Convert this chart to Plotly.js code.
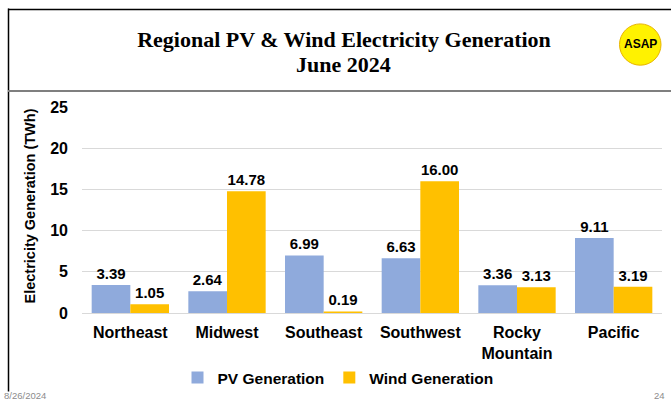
<!DOCTYPE html>
<html>
<head>
<meta charset="utf-8">
<script src="https://cdn.plot.ly/plotly-3.0.1.min.js"></script>
<style>
html,body{margin:0;padding:0;background:#fff;}
#chart{width:671px;height:403px;}
</style>
</head>
<body>
<div id="chart"></div>
<script>
const regions = ["Northeast", "Midwest", "Southeast", "Southwest", "Rocky<br>Mountain", "Pacific"];
const pvGeneration = [3.39, 2.64, 6.99, 6.63, 3.36, 9.11];
const windGeneration = [1.05, 14.78, 0.19, 16.00, 3.13, 3.19];
const yTicks = [0, 5, 10, 15, 20, 25];
const titleLine1 = "Regional PV & Wind Electricity Generation";
const titleLine2 = "June 2024";

const W = 671, H = 403;
const L = 82, R = 662, T = 107, B = 314;
const px = p => (p - L) / (R - L);
const py = p => (B - p) / (B - T);

const barFont = {family: "Liberation Sans, Arial, sans-serif", size: 15, color: "#000", weight: "bold"};
const titleFont = {family: "Liberation Serif, Times New Roman, serif", size: 22, color: "#000", weight: "bold"};

const traces = [
  {
    type: "bar", name: "PV Generation", x: regions, y: pvGeneration,
    marker: {color: "#8FAADC"},
    text: pvGeneration.map(v => v.toFixed(2)), textposition: "outside",
    textfont: barFont, cliponaxis: false, hoverinfo: "x+y"
  },
  {
    type: "bar", name: "Wind Generation", x: regions, y: windGeneration,
    marker: {color: "#FFC000"},
    text: windGeneration.map(v => v.toFixed(2)), textposition: "outside",
    textfont: barFont, cliponaxis: false, hoverinfo: "x+y"
  }
];

const layout = {
  width: W, height: H,
  margin: {l: L, r: W - R, t: T, b: H - B, pad: 0},
  paper_bgcolor: "#fff", plot_bgcolor: "#fff",
  barmode: "group", bargap: 0.2, bargroupgap: 0,
  showlegend: true,
  title: {
    text: titleLine1,
    font: titleFont,
    xref: "container", yref: "container", x: 344 / W, y: 1 - 39.5 / H,
    xanchor: "center", yanchor: "middle"
  },
  xaxis: {
    type: "category",
    tickfont: {family: "Liberation Sans, Arial, sans-serif", size: 16, color: "#000", weight: "bold"},
    showgrid: false, zeroline: false, showline: false, ticks: "",
    ticklabelstandoff: 8
  },
  yaxis: {
    range: [0, 25], tickvals: yTicks, ticktext: yTicks.map(String),
    tickfont: {family: "Liberation Sans, Arial, sans-serif", size: 16, color: "#000", weight: "bold"},
    showgrid: true, gridcolor: "#D9D9D9", gridwidth: 1,
    zeroline: true, zerolinecolor: "#D9D9D9", zerolinewidth: 1,
    showline: false, ticks: "", ticklabelstandoff: 13, fixedrange: true
  },
  legend: {
    orientation: "h", xref: "paper", yref: "paper",
    x: px(338), y: py(378), xanchor: "center", yanchor: "middle",
    font: {family: "Liberation Sans, Arial, sans-serif", size: 15.5, color: "#000", weight: "bold"},
    itemwidth: 30, bgcolor: "rgba(0,0,0,0)"
  },
  annotations: [
    {
      text: titleLine2, xref: "paper", yref: "paper", x: px(343), y: py(64),
      xanchor: "center", yanchor: "middle", showarrow: false, font: titleFont
    },
    {
      text: "Electricity Generation (TWh)", textangle: -90,
      xref: "paper", yref: "paper", x: px(30), y: py(207),
      xanchor: "center", yanchor: "middle", showarrow: false,
      font: {family: "Liberation Sans, Arial, sans-serif", size: 14.5, color: "#000", weight: "bold"}
    },
    {
      text: "ASAP", xref: "paper", yref: "paper", x: px(640.5), y: py(44),
      xanchor: "center", yanchor: "middle", showarrow: false,
      font: {family: "Liberation Sans, Arial, sans-serif", size: 12, color: "#000", weight: "bold"}
    },
    {
      text: "8/26/2024", xref: "paper", yref: "paper", x: px(2), y: py(397),
      xanchor: "left", yanchor: "middle", showarrow: false,
      font: {family: "Liberation Sans, Arial, sans-serif", size: 9.5, color: "#8C8C8C"}
    },
    {
      text: "24", xref: "paper", yref: "paper", x: px(667), y: py(397),
      xanchor: "right", yanchor: "middle", showarrow: false,
      font: {family: "Liberation Sans, Arial, sans-serif", size: 9.5, color: "#8C8C8C"}
    }
  ],
  shapes: [
    {type: "line", xref: "paper", yref: "paper", x0: px(8.5), x1: px(8.5), y0: py(8), y1: py(393), line: {color: "#000", width: 1.5}, layer: "above"},
    {type: "line", xref: "paper", yref: "paper", x0: px(8), x1: px(671), y0: py(9), y1: py(9), line: {color: "#000", width: 1.5}, layer: "above"},
    {type: "line", xref: "paper", yref: "paper", x0: px(8), x1: px(671), y0: py(91), y1: py(91), line: {color: "#7F7F7F", width: 2}, layer: "above"},
    {type: "circle", xref: "paper", yref: "paper", x0: px(619.5), x1: px(661), y0: py(23.5), y1: py(65), fillcolor: "#FFF200", line: {color: "#E8B400", width: 1}, layer: "below"}
  ]
};

Plotly.newPlot("chart", traces, layout, {displayModeBar: false, staticPlot: true});
</script>
</body>
</html>
